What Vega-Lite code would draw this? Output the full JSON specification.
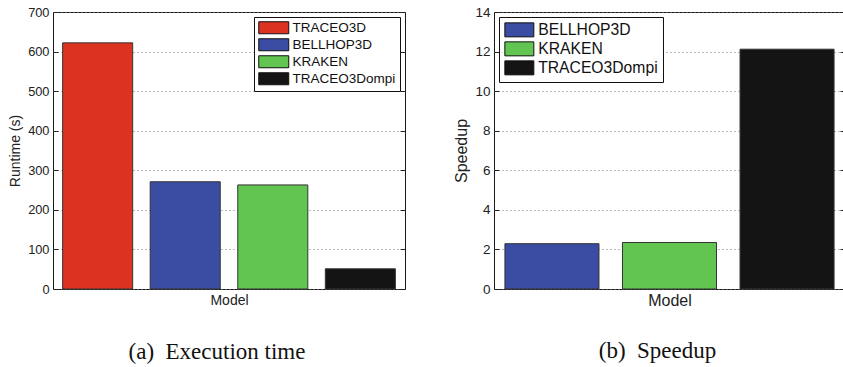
{
  "$schema": "https://vega.github.io/schema/vega-lite/v6.json",
  "background": "white",
  "padding": {"left": 8, "top": 4, "right": 0, "bottom": 0},
  "spacing": 47,
  "resolve": {"scale": {"color": "independent"}, "legend": {"color": "independent"}},
  "datasets": {
    "runtime": [
      {"model": "TRACEO3D", "runtime": 622},
      {"model": "BELLHOP3D", "runtime": 271},
      {"model": "KRAKEN", "runtime": 263},
      {"model": "TRACEO3Dompi", "runtime": 51}
    ],
    "speedup": [
      {"model": "BELLHOP3D", "speedup": 2.29},
      {"model": "KRAKEN", "speedup": 2.35},
      {"model": "TRACEO3Dompi", "speedup": 12.12}
    ]
  },
  "config": {
    "font": "Liberation Sans",
    "view": {"stroke": "#1a1a1a", "strokeWidth": 1},
    "axis": {
      "labelFont": "Liberation Sans",
      "titleFont": "Liberation Sans",
      "labelFontSize": 12.8,
      "titleFontSize": 14,
      "titleFontWeight": "normal",
      "labelColor": "#222",
      "titleColor": "#222",
      "tickColor": "#222",
      "domain": false,
      "gridColor": "#777",
      "gridDash": [1, 3],
      "gridOpacity": 1
    },
    "legend": {
      "offset": 5,
      "padding": 4,
      "strokeColor": "#111",
      "fillColor": "#fff",
      "symbolType": "M-1,-1L4,-1L4,1L-1,1Z",
      "symbolSize": 144,
      "symbolStrokeColor": "#111",
      "symbolStrokeWidth": 1,
      "symbolOpacity": 1,
      "labelFont": "Liberation Sans",
      "labelFontSize": 13.5,
      "labelColor": "#111",
      "labelOffset": 21,
      "rowPadding": 0
    }
  },
  "hconcat": [
    {
      "width": 352,
      "height": 277,
      "data": {"name": "runtime"},
      "title": {"text": "(a)\u2002Execution time", "orient": "bottom", "font": "Liberation Serif", "fontSize": 23, "fontWeight": "normal", "color": "#111", "offset": 34, "dx": -12},
      "layer": [
        {
          "mark": {"type": "bar", "stroke": "#333", "strokeWidth": 1},
          "encoding": {
            "x": {"field": "model", "type": "nominal", "sort": ["TRACEO3D", "BELLHOP3D", "KRAKEN", "TRACEO3Dompi"],
                  "scale": {"paddingInner": 0.2, "paddingOuter": 0.11},
                  "axis": {"labels": false, "ticks": false, "title": "Model", "titlePadding": 4}},
            "y": {"field": "runtime", "type": "quantitative",
                  "scale": {"domain": [0, 700], "nice": false},
                  "axis": {"title": "Runtime (s)", "values": [0, 100, 200, 300, 400, 500, 600, 700], "grid": true, "tickSize": -5, "labelPadding": 9, "titlePadding": 5}},
            "color": {"field": "model", "type": "nominal",
                      "scale": {"domain": ["TRACEO3D", "BELLHOP3D", "KRAKEN", "TRACEO3Dompi"], "range": ["#dc3222", "#3b4ca3", "#62c552", "#141414"]},
                      "legend": {"title": null, "orient": "top-right"}}
          }
        },
        {
          "mark": {"type": "bar", "opacity": 0},
          "encoding": {
            "x": {"field": "model", "type": "nominal", "sort": ["TRACEO3D", "BELLHOP3D", "KRAKEN", "TRACEO3Dompi"]},
            "y": {"field": "runtime", "type": "quantitative",
                  "axis": {"orient": "right", "title": null, "labels": false, "grid": false, "values": [0, 100, 200, 300, 400, 500, 600, 700], "tickSize": -5}}
          }
        }
      ],
      "resolve": {"axis": {"y": "independent"}}
    },
    {
      "width": 351,
      "height": 277,
      "data": {"name": "speedup"},
      "title": {"text": "(b)\u2002Speedup", "orient": "bottom", "font": "Liberation Serif", "fontSize": 23, "fontWeight": "normal", "color": "#111", "offset": 32, "dx": -12},
      "layer": [
        {
          "mark": {"type": "bar", "stroke": "#333", "strokeWidth": 1},
          "encoding": {
            "x": {"field": "model", "type": "nominal", "sort": ["BELLHOP3D", "KRAKEN", "TRACEO3Dompi"],
                  "scale": {"paddingInner": 0.2, "paddingOuter": 0.093},
                  "axis": {"labels": false, "ticks": false, "title": "Model", "titlePadding": 3, "titleFontSize": 16}},
            "y": {"field": "speedup", "type": "quantitative",
                  "scale": {"domain": [0, 14], "nice": false},
                  "axis": {"title": "Speedup", "values": [0, 2, 4, 6, 8, 10, 12, 14], "grid": true, "tickSize": -5, "labelPadding": 9, "titlePadding": 5, "labelFontSize": 13.5, "titleFontSize": 16}},
            "color": {"field": "model", "type": "nominal",
                      "scale": {"domain": ["BELLHOP3D", "KRAKEN", "TRACEO3Dompi"], "range": ["#3b4ca3", "#62c552", "#141414"]},
                      "legend": {"title": null, "orient": "top-left", "labelFontSize": 15.7, "symbolType": "M-1,-1L3.14,-1L3.14,1L-1,1Z", "symbolSize": 196, "labelOffset": 18.5, "padding": 5}}
          }
        },
        {
          "mark": {"type": "bar", "opacity": 0},
          "encoding": {
            "x": {"field": "model", "type": "nominal", "sort": ["BELLHOP3D", "KRAKEN", "TRACEO3Dompi"]},
            "y": {"field": "speedup", "type": "quantitative",
                  "axis": {"orient": "right", "title": null, "labels": false, "grid": false, "values": [0, 2, 4, 6, 8, 10, 12, 14], "tickSize": -5}}
          }
        }
      ],
      "resolve": {"axis": {"y": "independent"}}
    }
  ]
}
